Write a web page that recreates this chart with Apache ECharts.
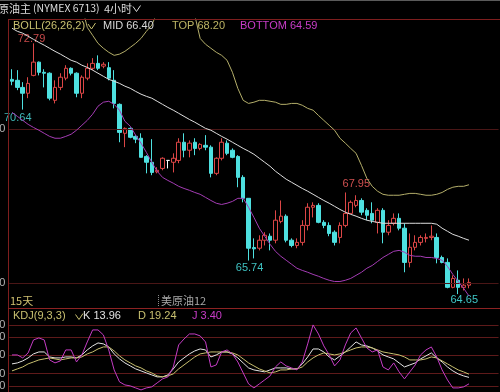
<!DOCTYPE html>
<html><head><meta charset="utf-8">
<script src="https://cdn.jsdelivr.net/npm/echarts@6/dist/echarts.min.js"></script>
<style>html,body{margin:0;padding:0;background:#000;overflow:hidden}#c{width:500px;height:392px}</style>
</head><body><div id="c"></div>
<script>
// ---- data ----
const candleOpen = [71.62,71.59,71.36,71.17,71.75,72.18,71.85,71.82,70.94,71.36,
71.66,71.98,71.82,71.17,71.66,71.98,72.14,72.05,72.00,71.59,
70.81,69.87,70.03,69.77,69.71,69.12,68.93,68.62,68.73,68.99,
68.93,68.99,69.58,69.32,69.58,69.38,69.48,69.42,68.57,69.06,
69.55,69.32,69.12,68.44,67.76,66.16,66.14,66.40,66.53,66.40,
67.01,67.18,66.40,66.23,66.33,66.88,67.47,67.53,66.98,66.88,
66.66,66.49,66.88,67.27,67.53,67.69,67.37,67.27,66.98,67.37,
66.66,66.95,67.11,66.79,65.68,66.17,66.33,66.46,66.49,66.49,
65.84,65.68,64.87,65.10,64.87,64.94];
const candleClose = [71.56,71.36,71.17,71.49,72.18,71.85,71.82,71.01,71.36,71.69,
71.98,71.82,71.17,71.69,71.98,72.14,71.98,72.11,71.66,70.84,
69.90,70.03,69.74,69.68,69.09,68.93,68.60,68.67,69.06,68.99,
69.06,69.58,69.32,69.55,69.38,69.51,69.42,68.57,69.06,69.58,
69.22,69.09,68.44,67.76,66.14,66.12,66.40,66.56,66.40,67.05,
67.18,66.40,66.23,66.33,66.88,67.47,67.53,66.98,66.88,66.62,
66.33,66.88,67.27,67.63,67.69,67.31,67.21,67.05,67.37,66.66,
66.88,67.11,66.79,65.68,66.17,66.33,66.49,66.49,66.53,65.84,
65.68,64.87,65.16,64.87,64.94,65.03];
const candleLow = [71.43,71.27,70.64,71.01,71.72,71.75,71.36,70.94,70.84,71.27,
71.59,71.75,71.04,71.01,71.59,71.92,71.92,71.98,71.59,70.68,
69.58,69.42,69.71,69.55,69.09,68.57,68.51,68.57,68.67,68.73,
68.60,68.90,69.09,69.09,69.16,69.32,69.32,68.44,68.51,68.99,
69.16,69.06,68.12,67.63,65.74,65.81,66.07,66.23,66.07,66.30,
66.95,66.33,66.17,66.14,66.23,66.72,67.14,66.95,66.79,66.53,
66.23,66.30,66.82,67.27,67.47,67.21,67.05,66.95,66.62,66.30,
66.56,66.88,66.72,65.36,65.52,66.07,66.23,66.33,66.40,65.65,
65.65,64.84,64.84,64.65,64.77,64.84];
const candleHigh = [71.95,71.92,71.53,71.69,72.79,72.20,71.95,71.85,71.59,71.82,
72.08,72.01,71.85,71.75,72.14,72.31,72.40,72.18,72.18,71.92,
70.84,70.06,70.06,69.81,69.87,69.16,69.68,68.77,69.09,69.00,
69.22,69.71,69.87,69.64,69.71,69.55,69.81,69.48,69.09,69.71,
69.64,69.38,69.16,68.51,67.76,66.46,66.56,66.66,66.62,67.37,
67.69,67.24,66.46,66.46,67.05,67.60,67.63,67.60,67.05,66.98,
66.72,66.98,67.95,67.69,67.86,67.76,67.44,67.63,67.44,67.44,
67.05,67.27,67.27,66.95,66.62,66.56,66.56,66.62,66.88,66.62,
65.90,65.81,65.26,65.42,65.16,65.16];
const bollMid = [73.28,73.18,73.12,73.02,72.92,72.82,72.73,72.63,72.53,72.44,
72.34,72.24,72.18,72.08,72.01,71.92,71.82,71.72,71.62,71.56,
71.49,71.40,71.33,71.23,71.14,71.07,71.01,70.91,70.81,70.71,
70.62,70.52,70.42,70.32,70.23,70.13,70.03,69.97,69.87,69.77,
69.68,69.58,69.48,69.38,69.29,69.19,69.06,68.93,68.80,68.64,
68.51,68.38,68.28,68.18,68.08,67.99,67.89,67.79,67.69,67.60,
67.50,67.40,67.31,67.24,67.18,67.11,67.05,67.01,66.98,66.95,
66.95,66.95,66.95,66.95,66.95,66.95,66.95,66.95,66.95,66.92,
66.79,66.69,66.59,66.53,66.46,66.40];
const bollTop = [74.6,74.6,74.6,74.6,74.6,74.6,74.6,74.6,74.6,74.6,
74.6,74.6,74.6,74.0,73.31,73.05,72.79,72.63,72.50,72.40,
72.44,72.53,72.66,72.79,72.95,73.18,73.38,73.8,74.1,74.2,
74.2,74.2,74.1,73.95,73.7,72.95,72.76,72.63,72.50,72.40,
72.24,71.85,71.33,70.94,70.84,70.88,70.94,70.94,70.91,70.88,
70.81,70.81,70.84,70.84,70.78,70.68,70.62,70.45,70.29,70.13,
69.97,69.71,69.55,69.38,69.22,68.83,68.41,68.15,67.99,67.89,
67.86,67.86,67.86,67.89,67.92,67.92,67.89,67.86,67.86,67.89,
67.95,68.05,68.12,68.15,68.15,68.20];
const bollBottom = [70.55,70.42,70.29,70.16,70.06,69.97,69.87,69.77,69.71,69.71,
69.77,69.84,69.97,70.13,70.29,70.49,70.75,70.88,70.91,70.81,
70.62,70.26,70.10,69.81,69.55,69.25,68.93,68.64,68.44,68.34,
68.25,68.15,68.08,68.02,67.95,67.89,67.79,67.69,67.60,67.56,
67.60,67.66,67.76,67.76,67.47,67.14,66.79,66.53,66.27,66.04,
65.88,65.75,65.62,65.49,65.42,65.36,65.29,65.23,65.16,65.10,
65.06,65.06,65.10,65.16,65.26,65.36,65.49,65.58,65.71,65.84,
65.94,66.04,66.07,66.01,65.91,65.88,65.88,65.84,65.84,65.81,
65.75,65.55,65.29,65.06,64.84,64.59];
const kdjK = [36.1,37.7,41.0,45.9,52.5,55.7,55.7,47.5,45.9,45.9,
47.5,47.5,45.9,50.8,59.0,65.6,70.5,68.9,63.9,52.5,
44.3,37.7,32.8,27.9,24.6,21.3,18.0,14.8,14.8,18.0,
27.9,39.3,45.9,52.5,57.4,60.6,59.0,47.5,50.8,55.7,
55.7,52.5,45.9,37.7,29.5,26.2,24.6,23.0,26.2,29.5,
29.5,29.5,27.9,27.9,36.1,47.5,60.6,60.6,55.7,47.5,
42.6,49.2,55.7,63.9,72.1,67.2,65.6,62.3,57.4,50.8,
47.5,44.3,37.7,31.1,34.4,37.7,44.3,49.2,54.1,45.9,
39.3,31.1,24.6,19.7,16.4,13.96];
const kdjD = [24.6,27.9,31.1,36.1,39.3,42.6,44.3,45.9,44.3,42.6,
44.3,45.9,45.9,47.5,52.5,55.7,60.6,63.9,63.9,57.4,
49.2,42.6,37.7,32.8,29.5,24.6,21.3,16.4,14.8,16.4,
19.7,27.9,34.4,41.0,47.5,52.5,54.1,55.7,55.7,55.7,
55.7,54.1,50.8,44.3,37.7,32.8,27.9,24.6,21.3,23.0,
26.2,26.2,27.9,27.9,31.1,39.3,45.9,50.8,54.1,52.5,
50.8,52.5,55.7,59.0,62.3,63.9,63.9,62.3,59.0,55.7,
54.1,52.5,50.8,47.5,42.6,42.6,42.6,44.3,47.5,45.9,
41.0,36.1,31.1,26.2,23.0,19.24];
const kdjJ = [50.8,50.8,45.9,54.1,75.4,78.7,75.4,42.6,37.7,41.0,
59.0,59.0,39.3,50.8,72.1,91.8,91.8,83.6,59.0,26.2,
6.6,1.6,0,-3.3,-6.6,-3.3,-1.6,4.9,11.5,14.8,
31.1,67.2,77.0,85.2,85.2,82.0,72.1,31.1,34.4,55.7,
59.0,52.5,39.3,21.3,3.3,-3.3,3.3,9.8,16.4,31.1,
39.3,32.8,29.5,26.2,39.3,68.9,100,85.2,65.6,50.8,
32.8,42.6,67.2,86.9,95.1,78.7,62.3,55.7,59.0,31.1,
26.2,37.7,23.0,11.5,23.0,34.4,50.8,59.0,63.9,47.5,
26.2,9.8,-3.3,-3.3,-1.6,3.40];
const priceTicks = [70, 65];
const kdjTicks = [0, 20, 50, 80, 100];
const extremeIdx = [4, 2, 44, 62, 83];
const extremeVal = [72.79, 70.64, 65.74, 67.95, 64.65];
const slotCount = 91; // 86 bars + empty space at the right edge
const categories = Array.from({length: slotCount}, (_, i) => 'B' + (i + 1));

// ---- styles ----
const RED = '#dc4646', CYAN = '#4ee0e0', KHAKI = '#c8c070', WHITE = '#e4e4e4', MAG = '#c43cc4';
const FONT = '"Liberation Sans", Arial, sans-serif';
const CJK = '"Noto Sans CJK SC", sans-serif';
const extremeStyle = [
  {color: '#c84a4a', offset: [-2, -4]},
  {color: '#3fb8b8', offset: [-5, 8]},
  {color: '#3fc2c2', offset: [1, 7]},
  {color: '#d05050', offset: [11, -8]},
  {color: '#3fc8c8', offset: [6, 6]}
];

const chart = echarts.init(document.getElementById('c'), null, {renderer: 'canvas'});
const candleData = candleOpen.map((o, i) => [o, candleClose[i], candleLow[i], candleHigh[i]]);

function txt(x, y, s, color, size, fam) {
  return {type: 'text', x: x, y: y, silent: true, z: 100,
    style: {text: s, fill: color, font: size + 'px ' + (fam || FONT), verticalAlign: 'middle', align: 'left'}};
}
function ln(x1, y1, x2, y2, c, dash) {
  return {type: 'line', silent: true, z: 90, shape: {x1, y1, x2, y2},
    style: {stroke: c, lineWidth: 1, lineDash: dash || null}};
}
function chev(x, y, c) {
  return {type: 'polyline', silent: true, z: 100, shape: {points: [[x, y], [x + 3.5, y + 5], [x + 7.5, y - 1]]},
    style: {stroke: c, lineWidth: 1, fill: null}};
}

const gridLeft = 9.3, bandW = (469 - 12) / 85, gridW = bandW * slotCount;

const option = {
  backgroundColor: '#000',
  animation: false,
  grid: [
    {left: gridLeft, width: gridW, top: 19, height: 289},
    {left: gridLeft, width: gridW, top: 310, height: 82}
  ],
  xAxis: [
    {type: 'category', gridIndex: 0, data: categories, boundaryGap: true, show: false},
    {type: 'category', gridIndex: 1, data: categories, boundaryGap: true, show: false}
  ],
  yAxis: [
    {type: 'value', gridIndex: 0, min: 64.2, max: 73.58, show: false, splitLine: {show: false}},
    {type: 'value', gridIndex: 1, min: -10, max: 124.5, show: false, splitLine: {show: false}}
  ],
  series: [
    {
      type: 'candlestick', xAxisIndex: 0, yAxisIndex: 0, data: candleData, barWidth: 4, z: 3,
      itemStyle: {color: '#000', color0: CYAN, borderColor: RED, borderColor0: CYAN, borderColorDoji: '#ffffff', borderWidth: 1},
      markLine: {
        silent: true, symbol: ['none', 'none'], animation: false,
        lineStyle: {color: '#4a1616', type: 'solid', width: 1},
        label: {show: true, position: 'start', distance: 4, color: '#b4b4b4', fontSize: 11, fontFamily: FONT,
          formatter: p => p.value.toFixed(2)},
        data: priceTicks.map(v => ({yAxis: v}))
      },
      markPoint: {
        silent: true, symbol: 'circle', symbolSize: 0, animation: false,
        data: extremeIdx.map((ix, k) => ({
          coord: [ix, extremeVal[k]], value: extremeVal[k],
          label: {show: true, position: 'inside', formatter: extremeVal[k].toFixed(2),
            color: extremeStyle[k].color, offset: extremeStyle[k].offset, fontSize: 11, fontFamily: FONT}
        }))
      }
    },
    {type: 'line', name: 'MID', xAxisIndex: 0, yAxisIndex: 0, data: bollMid, symbol: 'none', z: 5,
      lineStyle: {color: '#dedede', width: 1}},
    {type: 'line', name: 'TOP', xAxisIndex: 0, yAxisIndex: 0, data: bollTop, symbol: 'none', z: 5,
      lineStyle: {color: '#b4ae6a', width: 1}},
    {type: 'line', name: 'BOTTOM', xAxisIndex: 0, yAxisIndex: 0, data: bollBottom, symbol: 'none', z: 5,
      lineStyle: {color: '#a43cb4', width: 1}},
    {type: 'line', name: 'K', xAxisIndex: 1, yAxisIndex: 1, data: kdjK, symbol: 'none', z: 5,
      lineStyle: {color: WHITE, width: 1},
      markLine: {
        silent: true, symbol: ['none', 'none'], animation: false,
        lineStyle: {color: '#5e1a1a', type: 'solid', width: 1},
        label: {show: true, position: 'start', distance: 4, color: '#b4b4b4', fontSize: 11, fontFamily: FONT,
          formatter: p => String(p.value)},
        data: kdjTicks.map(v => ({yAxis: v}))
      }},
    {type: 'line', name: 'D', xAxisIndex: 1, yAxisIndex: 1, data: kdjD, symbol: 'none', z: 5,
      lineStyle: {color: KHAKI, width: 1}},
    {type: 'line', name: 'J', xAxisIndex: 1, yAxisIndex: 1, data: kdjJ, symbol: 'none', z: 6,
      lineStyle: {color: MAG, width: 1}}
  ],
  graphic: [
    ln(0, 0.5, 500, 0.5, '#5a5a5a'),
    ln(8, 19.5, 500, 19.5, '#7e1e1e'),
    ln(8.5, 19, 8.5, 392, '#7e1e1e'),
    ln(8, 308.5, 500, 308.5, '#8c2222'),
    txt(-2, 8.5, '原油主', '#dcdcdc', 11, CJK),
    txt(33, 8.5, '(NYMEX 6713)', '#dcdcdc', 10.5, CJK),
    txt(104, 8.5, '4小时', '#dcdcdc', 11, CJK),
    chev(133, 6.5, '#dcdcdc'),
    txt(13, 25.5, 'BOLL(26,26,2)', '#c8c070', 11),
    chev(88, 24, '#c8c070'),
    txt(103, 25.5, 'MID 66.40', '#d8d8d8', 11),
    txt(172, 25.5, 'TOP 68.20', '#bcb464', 11),
    txt(240, 25.5, 'BOTTOM 64.59', '#c83cc8', 11),
    txt(10, 301, '15天', '#d0c070', 11, CJK),
    ln(158.5, 295, 158.5, 307, '#8a8a8a', [1, 1]),
    txt(161, 301, '美原油12', '#a8a8a8', 11, CJK),
    txt(13, 316, 'KDJ(9,3,3)', '#c8c070', 11),
    chev(75.5, 314.5, '#c8c070'),
    txt(83, 316, 'K 13.96', '#e0e0e0', 11),
    txt(138, 316, 'D 19.24', '#c8c070', 11),
    txt(192, 316, 'J 3.40', '#c83cc8', 11)
  ]
};
chart.setOption(option);
</script>
</body></html>
